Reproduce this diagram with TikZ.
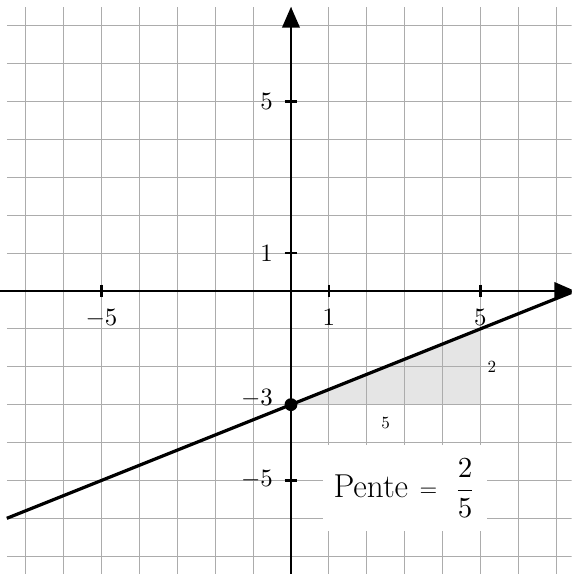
\documentclass[tikz,border=0pt]{standalone}
\usepackage{graphicx}
\usepackage{amsmath}
\usetikzlibrary{arrows.meta}
\begin{document}
\begin{tikzpicture}
\tikzset{
  gridline/.style={gray!65, line width=0.6pt},
  axis/.style={line width=1.8pt, -{Triangle[length=5.5mm,width=4.6mm]}},
  tickmark/.style={line width=1.8pt},
  ticklbl/.style={inner sep=0pt},
  smalllbl/.style={inner sep=0pt},
  droite/.style={line width=2.4pt},
  pentebox/.style={fill=white, inner sep=0pt, minimum width=4.33cm, minimum height=2.27cm},
}
\newcommand{\tlbl}[1]{\scalebox{1.87}{$#1$}}
\newcommand{\slbl}[1]{\scalebox{1.28}{$#1$}}
\useasboundingbox (-7.68,-7.47) rectangle (7.41,7.68);
\clip (-7.68,-7.47) rectangle (7.41,7.68);
% slope triangle
\fill[gray!20] (0,-3) -- (5,-3) -- (5,-1) -- cycle;
% grid
\draw[gridline] (-7.5,-7.5) grid (7.5,7.5);
% axes
\coordinate (xs) at (-7.8,0);
\coordinate (xe) at (7.5,0);
\coordinate (ys) at (0,-7.6);
\coordinate (ye) at (0,7.5);
\draw[axis] (xs) -- (xe);
\draw[axis] (ys) -- (ye);
% ticks
\foreach \x/\n in {-5/xm5,1/x1,5/x5}{
  \coordinate (t\n a) at (\x,0.17);
  \coordinate (t\n b) at (\x,-0.17);
  \draw[tickmark] (t\n a) -- (t\n b);
  \node[ticklbl, anchor=north] (l\n) at (\x,-0.48) {\tlbl{\x}};
}
\foreach \y/\n/\ly in {5/y5/4.78,1/y1/0.79,-5/ym5/-5.17}{
  \coordinate (t\n a) at (-0.17,\y);
  \coordinate (t\n b) at (0.17,\y);
  \draw[tickmark] (t\n a) -- (t\n b);
  \node[ticklbl, anchor=base east] (l\n) at (-0.47,\ly) {\tlbl{\y}};
}
\node[ticklbl, anchor=base east] (lym3) at (-0.47,-3.01) {\tlbl{-3}};
% line y = 2/5 x - 3
\coordinate (la) at (-7.5,-6);
\coordinate (lb) at (7.5,0);
\draw[droite] (la) -- (lb);
\node[circle, fill=black, inner sep=0pt, minimum size=0.34cm] (p) at (0,-3) {};
% triangle labels
\node[smalllbl] (run) at (2.5,-3.48) {\slbl{5}};
\node[smalllbl] (rise) at (5.3,-2.0) {\slbl{2}};
% slope label
\node[pentebox, anchor=base] (pente) at (3,-5.45) {{\fontsize{24.88}{30}\selectfont Pente}\hspace{0.3cm}\raisebox{1.1pt}{\scalebox{1.71}{$=$}}\hspace{0.45cm}\scalebox{2.18}{$\dfrac{2}{5}$}};
\end{tikzpicture}
\end{document}
